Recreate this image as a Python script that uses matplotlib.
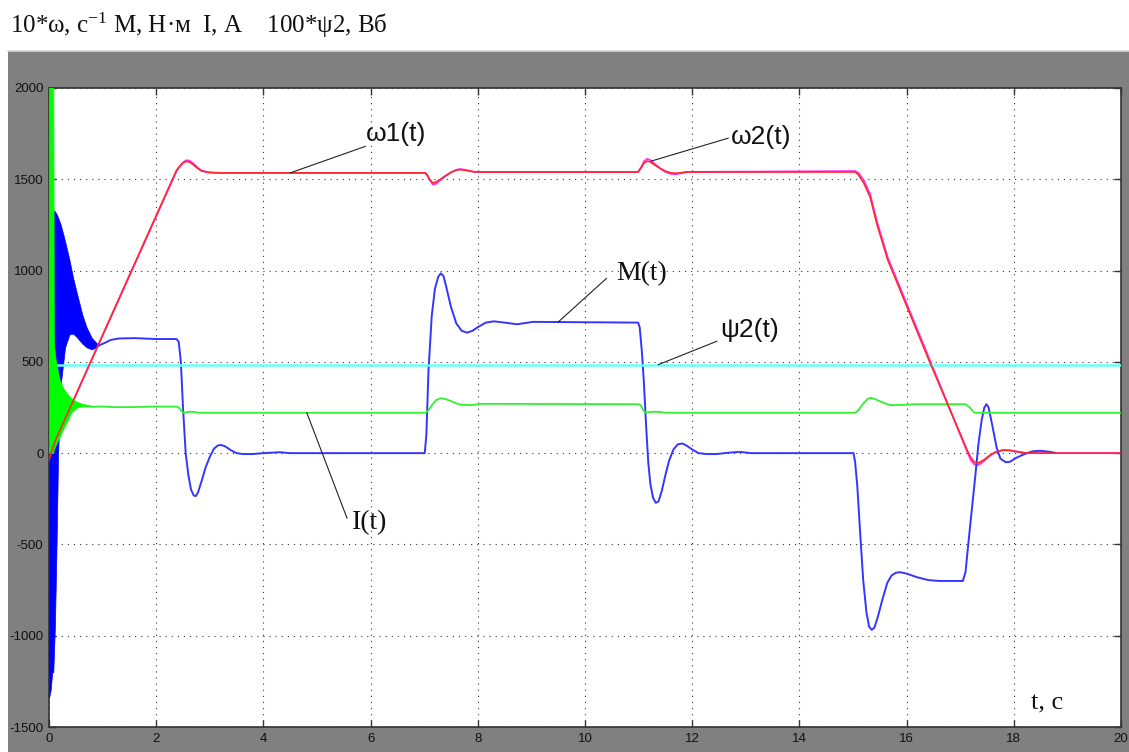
# Переходные процессы: скорость, момент, ток, потокосцепление

import numpy as np
import matplotlib
matplotlib.use("Agg")
import matplotlib.pyplot as plt
from matplotlib.patches import Rectangle
from matplotlib.lines import Line2D

plt.rcParams['mathtext.fontset'] = 'custom'
plt.rcParams['mathtext.rm'] = 'Liberation Serif'
plt.rcParams['mathtext.it'] = 'Liberation Serif:italic'

# 10*omega1 (красная) и 10*omega2 (малиновая)
t_w = [0, 0.05, 0.12, 2.38, 2.44, 2.5, 2.56, 2.62, 2.7, 2.78, 2.85, 3.0, 3.2,
       7.02, 7.06, 7.1, 7.16, 7.22, 7.3, 7.4, 7.5, 7.6, 7.67, 7.76, 7.85, 7.95,
       10.99, 11.04, 11.1, 11.16, 11.22, 11.3, 11.4, 11.5, 11.6, 11.7, 11.8, 11.9,
       15.04, 15.1, 15.2, 15.32, 15.45, 15.65, 16.44, 17.13, 17.2, 17.26, 17.31, 17.38,
       17.45, 17.55, 17.65, 17.8, 17.95, 18.1, 18.25, 20]
w1 = [-40, 10, 70, 1550, 1572, 1590, 1598, 1595, 1578, 1558, 1545, 1537, 1535,
      1535, 1520, 1500, 1480, 1485, 1500, 1520, 1538, 1550, 1553, 1550, 1545, 1540,
      1540, 1560, 1588, 1600, 1595, 1578, 1560, 1545, 1535, 1533, 1536, 1540,
      1540, 1525, 1480, 1402, 1250, 1057, 493, 16, -25, -48, -55, -48,
      -35, -12, 5, 16, 14, 6, 0, 0]
w2 = [-40, 10, 70, 1545, 1570, 1592, 1604, 1602, 1585, 1562, 1547, 1537, 1535,
      1535, 1522, 1498, 1472, 1475, 1495, 1518, 1538, 1552, 1556, 1552, 1546, 1540,
      1540, 1562, 1598, 1612, 1605, 1585, 1560, 1540, 1530, 1528, 1534, 1540,
      1545, 1535, 1495, 1418, 1265, 1070, 505, 8, -40, -60, -66, -58,
      -42, -15, 4, 18, 15, 6, 0, 0]

# M(t): пуск с колебаниями (огибающие) и далее одна линия
t_Mb = [0, 0.03, 0.045, 0.06, 0.08, 0.11, 0.14, 0.17, 0.22, 0.3, 0.38, 0.45, 0.52,
        0.62, 0.7, 0.8, 0.93]
M_hi = [300, 300, 1320, 1330, 1330, 1325, 1310, 1290, 1250, 1160, 1060, 960, 876,
        760, 690, 630, 590]
M_lo = [-1340, -1300, -1250, -1200, -1200, -950, -515, 0, 380, 580, 650, 655, 635,
        600, 580, 568, 590]

t_M = [0.93, 1.05, 1.15, 1.3, 1.6, 2.0, 2.38, 2.42, 2.46, 2.5, 2.55, 2.6, 2.65, 2.7,
       2.74, 2.78, 2.85, 2.92, 3.0, 3.08, 3.15, 3.2, 3.28, 3.4, 3.5, 3.62, 3.8, 4.0,
       4.3, 4.5,
       7.01, 7.04, 7.08, 7.14, 7.2, 7.26, 7.31, 7.36, 7.42, 7.5, 7.6, 7.7, 7.8, 7.9,
       8.0, 8.15, 8.3, 8.5, 8.73, 9.03,
       10.99, 11.02, 11.06, 11.1, 11.14, 11.18, 11.22, 11.27, 11.32, 11.37, 11.43,
       11.5, 11.57, 11.65, 11.73, 11.82, 11.9, 12.0, 12.12, 12.27, 12.45, 12.7,
       12.89, 13.1,
       15.01, 15.04, 15.08, 15.13, 15.19, 15.25, 15.3, 15.35, 15.4, 15.46, 15.55,
       15.64, 15.72, 15.8, 15.88, 16.0, 16.2, 16.4, 16.6, 17.05, 17.1, 17.15, 17.22,
       17.28, 17.34, 17.4, 17.45, 17.49, 17.53, 17.6, 17.68, 17.75, 17.85, 17.93,
       18.05, 18.2, 18.35, 18.49, 18.65, 18.77]
M = [590, 605, 620, 628, 630, 625, 625, 610, 500, 250, 0, -120, -200, -232,
     -235, -215, -150, -80, -20, 25, 42, 45, 38, 15, 0, -5, -5, 0,
     5, 0,
     0, 100, 450, 750, 900, 965, 985, 970, 900, 800, 710, 670, 660, 670,
     690, 715, 722, 715, 706, 719,
     715, 690, 560, 380, 150, -50, -170, -245, -272, -265, -210,
     -120, -40, 20, 48, 53, 40, 20, 0, -5, -5, 3,
     7, 0,
     0, -50, -180, -420, -695, -870, -950, -968, -955, -900, -800,
     -710, -670, -655, -652, -660, -680, -695, -700, -700, -650, -500, -300,
     -130, 50, 180, 250, 268, 250, 150, 30, -30, -50, -47,
     -25, -5, 10, 13, 8, 2]

# I(t): пусковой бросок (огибающие) и далее одна линия
t_Ib = [0, 0.08, 0.09, 0.12, 0.15, 0.2, 0.27, 0.33, 0.42, 0.52, 0.6, 0.7, 0.8, 0.9]
I_hi = [2050, 2050, 600, 520, 470, 400, 355, 328, 300, 282, 272, 265, 260, 256]
I_lo = [0, 0, 20, 40, 60, 90, 135, 170, 225, 250, 256, 256, 256, 256]

t_I = [0.9, 1.2, 1.5, 2.0, 2.38, 2.42, 2.47, 2.5, 2.55, 2.6, 2.7, 2.8,
       7.03, 7.08, 7.15, 7.22, 7.3, 7.38, 7.5, 7.6, 7.7, 7.88, 8.0, 8.1,
       11.0, 11.04, 11.08, 11.12, 11.2, 11.3, 11.44, 11.5,
       15.04, 15.1, 15.2, 15.28, 15.33, 15.42, 15.55, 15.69, 16.0, 16.16, 17.1,
       17.18, 17.25, 17.28, 20]
I = [256, 252, 252, 255, 255, 250, 232, 222, 222, 227, 226, 221,
     221, 235, 265, 290, 300, 298, 285, 272, 265, 263, 268, 270,
     268, 262, 240, 222, 225, 227, 224, 221,
     221, 235, 275, 298, 303, 295, 278, 263, 265, 268, 268,
     250, 225, 221, 221]

# 100*psi2
t_psi = [0, 20]
psi = [485, 485]

xticks = np.arange(0, 21, 2)
yticks = np.arange(-1500, 2001, 500)

fig = plt.figure(figsize=(11.29, 7.52), dpi=100, facecolor='white')

# серая подложка окна
fig.patches.append(Rectangle((8 / 1129, 0), 1, 701 / 752, transform=fig.transFigure,
                             facecolor='#808080', edgecolor='none', zorder=-5))
fig.lines.append(Line2D([8 / 1129, 1], [701.5 / 752, 701.5 / 752], transform=fig.transFigure,
                        color='#d4d4d4', lw=1.2, zorder=-4))

ax = fig.add_axes([49 / 1129, 25 / 752, 1072 / 1129, 639 / 752])
ax.set_facecolor('white')

ax.plot(t_w, w2, color='#ff30ff', lw=1.3, zorder=2)
ax.fill_between(t_Mb, M_lo, M_hi, color='#0000ff', lw=0.5, zorder=3)
ax.plot(t_M, M, color='#3535ff', lw=1.4, zorder=3)
ax.plot(t_psi, psi, color='#66ffff', lw=1.8, zorder=4)
ax.fill_between(t_Ib, I_lo, I_hi, color='#00ff00', lw=0.5, zorder=5)
ax.plot(t_I, I, color='#33f033', lw=1.3, zorder=5)
ax.plot(t_w, w1, color='#ff2a2a', lw=1.2, zorder=6)

ax.set_xlim(0, 20)
ax.set_ylim(-1500, 2000)
ax.set_xticks(xticks)
ax.set_yticks(yticks)
ax.set_xticklabels([str(v) for v in xticks])
ax.set_yticklabels([str(v) for v in yticks])
ax.tick_params(direction='in', length=5, width=1, color='#333333', top=True, right=True,
               labelsize=9.5, labelcolor='#111111', pad=4)
for lab in ax.get_xticklabels() + ax.get_yticklabels():
    lab.set_family('Liberation Sans')
ax.grid(True, color='#333333', linestyle=(0, (1, 4.5)), lw=0.8)
for s in ax.spines.values():
    s.set_color('#333333')
    s.set_linewidth(1.2)

# подписи кривых
sans = dict(family='Liberation Sans', fontsize=19, color='#111111', va='center', ha='left')
serif = dict(family='Liberation Serif', fontsize=20, color='#111111', va='center', ha='left')
lk = dict(color='#222222', lw=0.8, zorder=7)

ax.plot([4.5, 5.9], [np.interp(4.5, t_w, w1), 1680], **lk)
ax.text(5.92, 1747, 'ω1(t)', **sans)

ax.plot([11.24, 12.67], [np.interp(11.24, t_w, w2), 1725], **lk)
ax.text(12.72, 1730, 'ω2(t)', **sans)

ax.plot([9.5, 10.4], [np.interp(9.5, t_M, M), 957], **lk)
ax.text(10.58, 985, 'M(t)', **serif)

ax.plot([11.37, 12.46], [psi[0], 613], **lk)
ax.text(12.52, 673, 'ψ2(t)', **sans)

ax.plot([4.81, 5.56], [np.interp(4.81, t_I, I), -356], **lk)
ax.text(5.65, -383, 'I(t)', **serif)

ax.text(18.32, -1369, 't, c', family='Liberation Serif', fontsize=19, color='#111111',
        va='center', ha='left')

fig.text(10 / 1129, 1 - 33 / 752, '10*ω, с$^{-1}$ М, Н·м  I, А    100*ψ2, Вб',
         family='Liberation Serif', fontsize=18, color='#111111', va='baseline', ha='left')

fig.savefig('out.png', dpi=100, facecolor=fig.get_facecolor())
